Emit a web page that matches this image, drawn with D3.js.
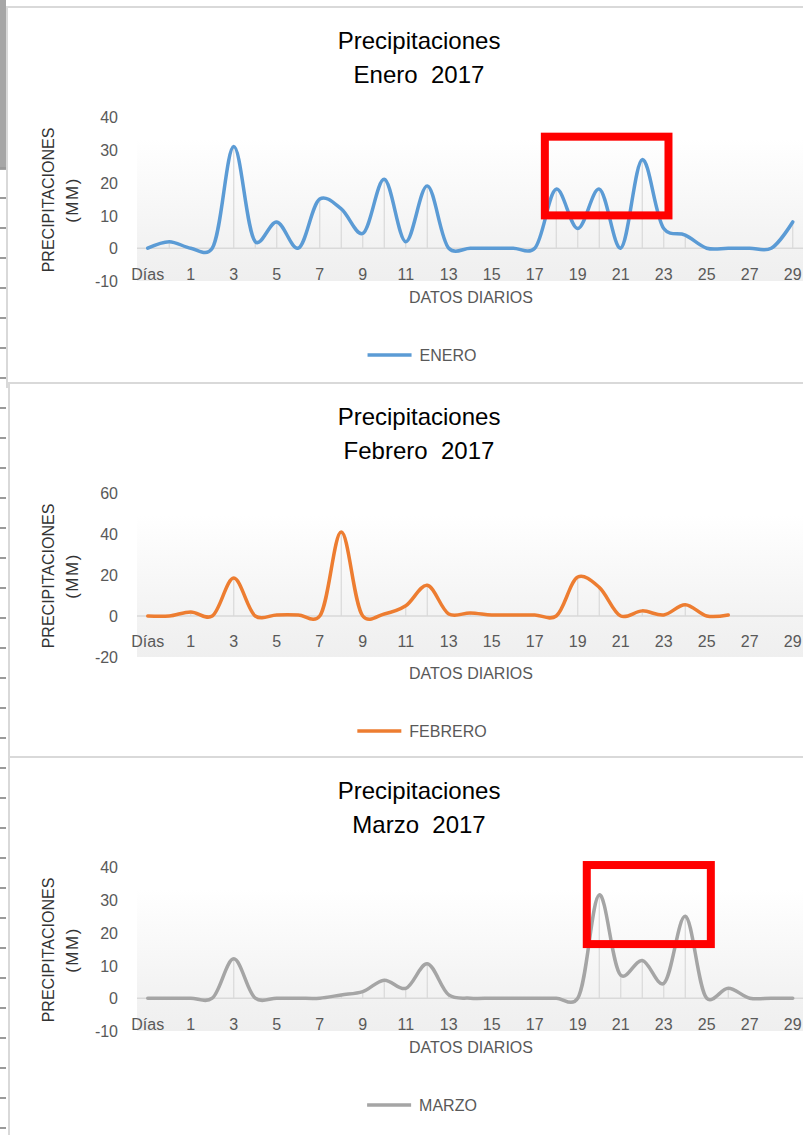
<!DOCTYPE html>
<html><head><meta charset="utf-8">
<script src="https://cdn.jsdelivr.net/npm/d3@7"></script>
<style>
body{margin:0;background:#fff;overflow:hidden;}
svg{display:block;font-family:"Liberation Sans",Arial,sans-serif;}
</style>
</head><body>
<svg id="chart" width="803" height="1135"></svg>
<script>
// ---------- DATA ----------
const categories = ["Días", "", "1", "2", "3", "4", "5", "6", "7", "8", "9", "10",
  "11", "12", "13", "14", "15", "16", "17", "18", "19", "20", "21", "22", "23",
  "24", "25", "26", "27", "28", "29", "30", "31"];
const categoryTickLabels = ["Días", "1", "3", "5", "7", "9", "11", "13", "15", "17",
  "19", "21", "23", "25", "27", "29", "31"];

const eneroValues   = [0, 2, 0, 0, 31, 2, 8, 0, 15, 12, 4.5, 21, 2, 19, 0, 0, 0, 0, 0,
  18, 6, 18, 0, 27, 6, 4, 0, 0, 0, 0, 8];
const febreroValues = [0, 0, 2, 0, 18.5, 0, 0.5, 0.5, 0, 41, 0, 1, 5, 15, 1, 1.5, 0.5,
  0.5, 0.5, 0, 19, 14, 0, 2.5, 0.5, 5.5, 0, 0.5];
const marzoValues   = [0, 0, 0, 0, 12, 0, 0, 0, 0, 1, 2, 5.5, 3, 10.5, 1, 0, 0, 0, 0,
  0, 0, 31.5, 7, 11.5, 4.5, 25, 0, 3, 0, 0, 0];

const eneroTicks   = [-10, 0, 10, 20, 30, 40];
const febreroTicks = [-20, 0, 20, 40, 60];
const marzoTicks   = [-10, 0, 10, 20, 30, 40];

const titleLine1 = "Precipitaciones";
const titleLines2 = ["Enero  2017", "Febrero  2017", "Marzo  2017"];
const seriesNames = ["ENERO", "FEBRERO", "MARZO"];
const yAxisTitle = ["PRECIPITACIONES", "(MM)"];
const xAxisTitle = "DATOS DIARIOS";

// highlight boxes (category index range, value range)
const eneroHighlight = [18.47, 24.22, 10, 34];
const marzoHighlight = [20.42, 26.19, 16.5, 40.6];

// ---------- LAYOUT ----------
const svg = d3.select("#chart");
const W = 803, H = 1135;
const plotLeft = 137, step = 21.5;

const panels = [
  {values: eneroValues, ticks: eneroTicks, title2: titleLines2[0], name: seriesNames[0],
   color: "#5b9bd5", top: 7, left: 7, labelBase: 273, box: eneroHighlight},
  {values: febreroValues, ticks: febreroTicks, title2: titleLines2[1], name: seriesNames[1],
   color: "#ed7d31", top: 383, left: 9, labelBase: 263.7, box: null},
  {values: marzoValues, ticks: marzoTicks, title2: titleLines2[2], name: seriesNames[2],
   color: "#a5a5a5", top: 757, left: 9, labelBase: 273, box: marzoHighlight}
];

const defs = svg.append("defs");
const grad = defs.append("linearGradient").attr("id", "plotGrad")
  .attr("x1", 0).attr("y1", 0).attr("x2", 0).attr("y2", 1);
grad.append("stop").attr("offset", "0%").attr("stop-color", "#ffffff");
grad.append("stop").attr("offset", "70%").attr("stop-color", "#f3f3f3");
grad.append("stop").attr("offset", "100%").attr("stop-color", "#efefef");

// spreadsheet background strip
svg.append("rect").attr("x", 0).attr("y", 0).attr("width", W).attr("height", H).attr("fill", "#fff");
svg.append("rect").attr("x", 0).attr("y", 0).attr("width", 6).attr("height", 170).attr("fill", "#a6a6a6");
for (let yy = 168; yy < H; yy += 30) {
  svg.append("line").attr("x1", 0).attr("x2", 6).attr("y1", yy).attr("y2", yy)
    .attr("stroke", "#9a9a9a").attr("stroke-width", 2);
}

const x = d3.scaleBand().domain(categories)
  .range([plotLeft, plotLeft + categories.length * step]).padding(0);
const xc = c => x(c) + x.bandwidth() / 2;
const xIdx = d3.scaleLinear().domain([0, 1]).range([xc(categories[0]), xc(categories[1])]);

panels.forEach(p => {
  const g = svg.append("g");
  const T = p.top;
  // panel border
  g.append("rect").attr("x", p.left).attr("y", T).attr("width", W + 20).attr("height", 380)
    .attr("fill", "#fff").attr("stroke", "#d9d9d9").attr("stroke-width", 2);

  const y = d3.scaleLinear().domain(d3.extent(p.ticks)).range([T + 274, T + 110]);

  // plot area
  g.append("rect").attr("x", plotLeft).attr("y", T + 132)
    .attr("width", categories.length * step).attr("height", y(d3.min(p.ticks)) - (T + 132))
    .attr("fill", "url(#plotGrad)");

  // titles
  g.append("text").attr("x", 419).attr("y", T + 42).attr("text-anchor", "middle")
    .attr("font-size", 24).attr("fill", "#000").text(titleLine1);
  g.append("text").attr("x", 419).attr("y", T + 76).attr("text-anchor", "middle")
    .attr("font-size", 24).attr("fill", "#000").style("white-space", "pre").text(p.title2);

  // y axis labels
  const yAxis = d3.axisLeft(y).tickValues(p.ticks).tickSize(0).tickPadding(0)
    .tickFormat(d => String(d));
  const ya = g.append("g").attr("transform", "translate(118,0)").call(yAxis);
  ya.select(".domain").remove();
  ya.selectAll("text").attr("font-size", 16).attr("fill", "#595959")
    .attr("font-family", "Liberation Sans, Arial, sans-serif").attr("dy", "0.36em");

  // zero axis line
  g.append("line").attr("x1", plotLeft).attr("x2", plotLeft + categories.length * step)
    .attr("y1", y(0)).attr("y2", y(0)).attr("stroke", "#d9d9d9").attr("stroke-width", 1.5);

  // category labels
  const xAxis = d3.axisBottom(x).tickValues(categoryTickLabels).tickSize(0).tickPadding(0);
  const xa = g.append("g").attr("transform", `translate(0,${T + p.labelBase})`).call(xAxis);
  xa.select(".domain").remove();
  xa.selectAll("text").attr("font-size", 16).attr("fill", "#595959").attr("dy", 0).attr("y", 0)
    .attr("font-family", "Liberation Sans, Arial, sans-serif");

  // drop lines
  g.append("g").selectAll("line").data(p.values).join("line")
    .attr("x1", (d, i) => xc(categories[i])).attr("x2", (d, i) => xc(categories[i]))
    .attr("y1", d => y(d)).attr("y2", y(0))
    .attr("stroke", "#d9d9d9").attr("stroke-width", 1.2);

  // series line
  const line = d3.line().x((d, i) => xc(categories[i])).y(d => y(d))
    .curve(d3.curveCatmullRom.alpha(0.25));
  g.append("path").datum(p.values).attr("d", line).attr("fill", "none")
    .attr("stroke", p.color).attr("stroke-width", 3.5)
    .attr("stroke-linecap", "round").attr("stroke-linejoin", "round");

  // y axis title
  g.append("text").attr("transform", `translate(53.5,${T + 193}) rotate(-90)`)
    .attr("text-anchor", "middle").attr("font-size", 16).attr("fill", "#333")
    .text(yAxisTitle[0]);
  g.append("text").attr("transform", `translate(78,${T + 193}) rotate(-90)`)
    .attr("text-anchor", "middle").attr("font-size", 17).attr("fill", "#333")
    .attr("letter-spacing", 1.5).text(yAxisTitle[1]);

  // x axis title
  g.append("text").attr("x", 471).attr("y", T + 296).attr("text-anchor", "middle")
    .attr("font-size", 16).attr("fill", "#595959").text(xAxisTitle);

  // legend
  const lg = g.append("g").attr("transform", `translate(0,${T + 348})`);
  const txt = lg.append("text").attr("y", 6).attr("font-size", 16).attr("fill", "#595959").text(p.name);
  const tw = txt.node().getComputedTextLength();
  const total = 44 + 8 + tw;
  const lx = 422 - total / 2;
  lg.append("line").attr("x1", lx).attr("x2", lx + 44).attr("y1", 0).attr("y2", 0)
    .attr("stroke", p.color).attr("stroke-width", 3.5);
  txt.attr("x", lx + 52);

  // highlight box
  if (p.box) {
    const [i0, i1, v0, v1] = p.box;
    g.append("rect").attr("x", xIdx(i0)).attr("y", y(v1))
      .attr("width", xIdx(i1) - xIdx(i0)).attr("height", y(v0) - y(v1))
      .attr("fill", "none").attr("stroke", "#ff0000").attr("stroke-width", 8);
  }
});
</script>
</body></html>
